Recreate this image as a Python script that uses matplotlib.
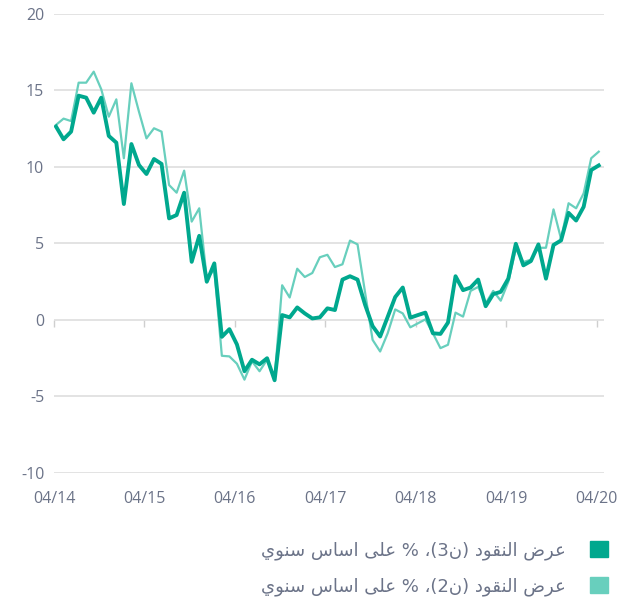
import numpy as np
import matplotlib
matplotlib.use("Agg")
import matplotlib.pyplot as plt
from matplotlib.patches import Patch

plt.rcParams['axes.unicode_minus'] = False

# monthly, 04/14 .. 04/20, % y/y
m3 = [12.64, 11.81, 12.31, 14.66, 14.53, 13.55, 14.53, 12.03, 11.59, 7.58,
      11.5, 10.13, 9.54, 10.52, 10.2, 6.64, 6.86, 8.32, 3.8, 5.5,
      2.5, 3.7, -1.1, -0.6, -1.6, -3.35, -2.6, -2.9, -2.5, -3.94,
      0.32, 0.17, 0.82, 0.43, 0.1, 0.17, 0.76, 0.65, 2.64, 2.86,
      2.64, 1.0, -0.4, -1.08, 0.2, 1.5, 2.12, 0.15, 0.32, 0.48,
      -0.87, -0.91, -0.17, 2.86, 1.95, 2.12, 2.64, 0.9, 1.69, 1.84,
      2.7, 4.98, 3.57, 3.85, 4.94, 2.7, 4.9, 5.2, 7.0, 6.5,
      7.4, 9.8, 10.1]
m2 = [12.75, 13.16, 13.0, 15.51, 15.51, 16.23, 15.08, 13.29, 14.42, 10.57,
      15.47, 13.62, 11.87, 12.53, 12.31, 8.82, 8.32, 9.76, 6.43, 7.3,
      2.7, 3.3, -2.34, -2.38, -2.86, -3.9, -2.7, -3.35, -2.6, -3.8,
      2.27, 1.47, 3.35, 2.81, 3.07, 4.1, 4.26, 3.46, 3.64, 5.19,
      4.94, 1.8, -1.3, -2.06, -0.87, 0.69, 0.43, -0.48, -0.22, 0.04,
      -0.87, -1.84, -1.62, 0.48, 0.22, 1.9, 2.16, 1.08, 1.9, 1.26,
      2.49, 4.65, 3.79, 3.94, 4.72, 4.72, 7.23, 5.3, 7.63, 7.3,
      8.28, 10.57, 11.0]
tick_labels = ['04/14', '04/15', '04/16', '04/17', '04/18', '04/19', '04/20']
y_ticks = [-10, -5, 0, 5, 10, 15, 20]

# arabic labels, already shaped and in visual order (no bidi in matplotlib)
label_m3 = ("\uFEF1\uFEEE\uFEE8\uFEB3 \uFEB1\uFE8E\uFEB3\uFE8D \uFEF0\uFEE0\uFECB % "
            "\u060C(3\uFEE5) \uFEA9\uFEEE\uFED8\uFEE8\uFEDF\uFE8D \uFEBD\uFEAE\uFECB")
label_m2 = ("\uFEF1\uFEEE\uFEE8\uFEB3 \uFEB1\uFE8E\uFEB3\uFE8D \uFEF0\uFEE0\uFECB % "
            "\u060C(2\uFEE5) \uFEA9\uFEEE\uFED8\uFEE8\uFEDF\uFE8D \uFEBD\uFEAE\uFECB")

dark = '#00a88e'
light = '#68cfbd'
txt = '#6b7388'
grid = '#dedede'

fig = plt.figure(figsize=(6.27, 6.0), dpi=100)
ax = fig.add_axes([0.0861, 0.2117, 0.877, 0.765])

x = np.arange(len(m3)) + 0.27
ax.plot(x, m2, color=light, lw=1.6, zorder=3)
ax.plot(x, m3, color=dark, lw=2.8, zorder=4)

ax.set_ylim(-10, 20)
ax.set_xlim(0, 72.95)
ax.set_yticks(y_ticks)
ax.set_xticks(np.arange(0, 73, 12))
ax.set_xticklabels(tick_labels)
ax.grid(axis='y', color=grid, lw=1.2)
ax.grid(axis='x', visible=False)
for s in ax.spines.values():
    s.set_visible(False)
ax.tick_params(axis='y', length=0, pad=7, labelsize=11.5, labelcolor=txt)
ax.tick_params(axis='x', length=0, pad=13, labelsize=11.5, labelcolor=txt)
for lab in ax.get_xticklabels() + ax.get_yticklabels():
    lab.set_fontfamily('Open Sans')

# small tick marks sitting on the zero line
sec = ax.secondary_xaxis(1 / 3)
sec.set_xticks(np.arange(0, 73, 12))
sec.tick_params(axis='x', length=5, color='#cfcfcf', width=1, labelbottom=False)
sec.spines['bottom'].set_visible(False)

handles = [Patch(color=dark, label=label_m3), Patch(color=light, label=label_m2)]
leg = fig.legend(handles=handles, loc='upper right', bbox_to_anchor=(0.996, 0.125),
                 frameon=False, markerfirst=False, handlelength=1.0, handleheight=1.0,
                 handletextpad=1.35, labelspacing=0.95,
                 prop={'family': 'DejaVu Sans', 'size': 13})
for t in leg.get_texts():
    t.set_color(txt)

fig.savefig('out.png', dpi=100)
